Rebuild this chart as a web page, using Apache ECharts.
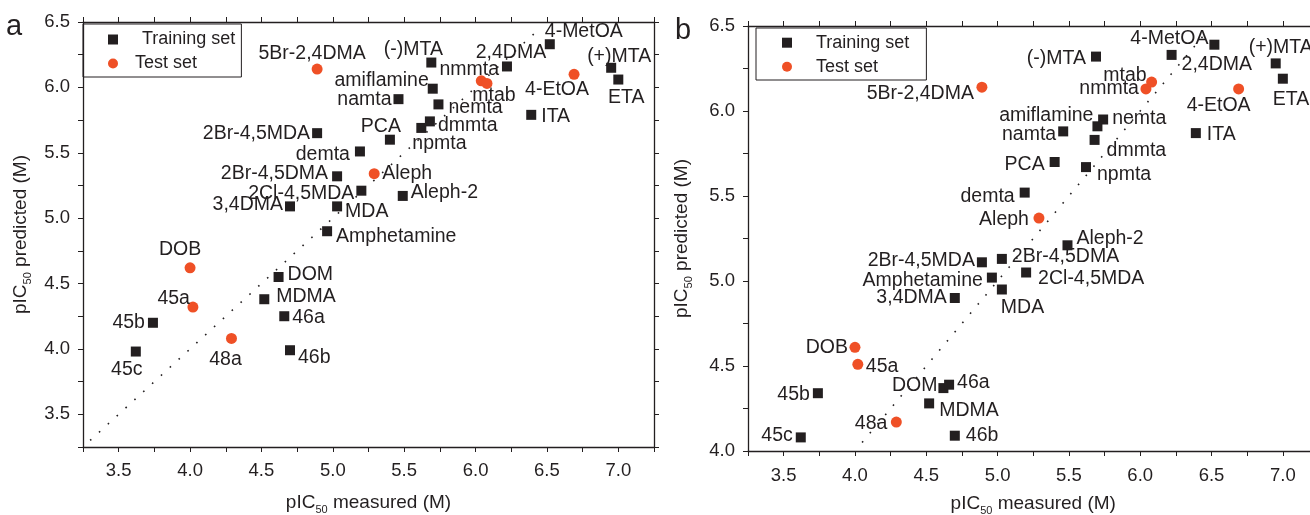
<!DOCTYPE html>
<html>
<head>
<meta charset="utf-8">
<script src="https://cdn.jsdelivr.net/npm/echarts@6/dist/echarts.min.js"></script>
<style>html,body{margin:0;padding:0;background:#fff;overflow:hidden}#c{width:1310px;height:515px}</style>
</head>
<body>
<div id="c"></div>
<script>
// ---------------- data ----------------
const compounds = ['5Br-2,4DMA','2Br-4,5MDA','2Br-4,5DMA','3,4DMA','2Cl-4,5MDA','MDA','Amphetamine','demta','Aleph','Aleph-2','PCA','npmta','dmmta','nemta','amiflamine','namta','(-)MTA','nmmta','mtab','2,4DMA','4-MetOA','4-EtOA','(+)MTA','ETA','ITA','DOB','45a','45b','45c','48a','DOM','MDMA','46a','46b'];
const isTest    = [1,0,0,0,0,0,0,0,1,0,0,0,0,0,0,0,0,1,1,0,0,1,0,0,0,1,1,0,0,1,0,0,0,0];
const measured  = [4.89,4.89,5.03,4.70,5.20,5.03,4.96,5.19,5.29,5.49,5.40,5.62,5.68,5.74,5.70,5.46,5.69,6.04,6.08,6.22,6.52,6.69,6.95,7.00,6.39,4.00,4.02,3.74,3.62,4.29,4.62,4.52,4.66,4.70];
const predictedA= [6.14,5.65,5.32,5.09,5.21,5.09,4.90,5.51,5.34,5.17,5.60,5.69,5.74,5.87,5.99,5.91,6.19,6.05,6.03,6.16,6.33,6.10,6.15,6.06,5.79,4.62,4.32,4.20,3.98,4.08,4.55,4.38,4.25,3.99];
const predictedB= [6.14,5.11,5.13,4.90,5.05,4.95,5.02,5.52,5.37,5.21,5.70,5.67,5.83,5.95,5.91,5.88,6.32,6.13,6.17,6.33,6.39,6.13,6.28,6.19,5.87,4.61,4.51,4.34,4.08,4.17,4.37,4.28,4.39,4.09];
const diagA = [3.30, 6.45];
const diagB = [4.05, 6.47];
const seriesNames = ['Training set', 'Test set'];
const panelLetters = ['a', 'b'];

// ---------------- label placement (style) ----------------
const labelA = {
 '5Br-2,4DMA':['center',-5,-15],'2Br-4,5MDA':['right',-7,0],'2Br-4,5DMA':['right',-9,-3],'3,4DMA':['right',-7,-2],
 '2Cl-4,5MDA':['right',-7,3],'MDA':['left',8,5],'Amphetamine':['left',9,5],'demta':['right',-10,3],
 'Aleph':['left',8,0],'Aleph-2':['left',8,-3],'PCA':['center',-9,-13],'npmta':['left',-9,16],
 'dmmta':['left',8,4],'nemta':['left',10,3],'amiflamine':['right',-4,-8],'namta':['right',-7,0],
 '(-)MTA':['center',-18,-13],'nmmta':['center',-12,-11],'mtab':['center',7,12],'2,4DMA':['center',4,-14],
 '4-MetOA':['left',-5,-13],'4-EtOA':['center',-17,15],'(+)MTA':['center',8,-11],'ETA':['center',8,18],
 'ITA':['left',10,2],'DOB':['center',-10,-18],'45a':['right',-3,-8],'45b':['right',-8,0],
 '45c':['center',-9,18],'48a':['center',-6,21],'DOM':['left',9,-2],'MDMA':['left',12,-3],
 '46a':['left',8,1],'46b':['left',8,7]
};
const labelB = {
 '5Br-2,4DMA':['right',-8,6],'(-)MTA':['right',-10,2],'4-MetOA':['right',-6,-6],'2,4DMA':['left',10,10],
 '(+)MTA':['left',-27,-16],'ETA':['left',-10,21],'4-EtOA':['left',-52,17],'mtab':['right',-5,-6],
 'nmmta':['right',-7,0],'amiflamine':['right',-4,-11],'nemta':['left',9,-1],'namta':['right',-7,3],
 'dmmta':['left',12,11],'ITA':['left',11,2],'PCA':['right',-10,3],'npmta':['left',11,8],
 'demta':['right',-10,4],'Aleph':['right',-10,2],'Aleph-2':['left',9,-7],'2Br-4,5DMA':['left',10,-2],
 '2Cl-4,5MDA':['left',12,6],'MDA':['left',-1,18],'2Br-4,5MDA':['right',-7,-2],'Amphetamine':['right',-9,3],
 '3,4DMA':['right',-8,0],'DOB':['right',-7,0],'45a':['left',8,2],'45b':['right',-8,1],
 '45c':['right',-8,-2],'48a':['right',-9,2],'DOM':['right',-6,-2],'46a':['left',8,-2],
 'MDMA':['left',10,7],'46b':['left',11,0]
};

const INK = '#231f20';
const RED = '#EF5026';
const FONT = 'Liberation Sans, Arial, sans-serif';
const SQ = 10, CI = 11;

function pointsFor(pred, test, labels, size) {
  const out = [];
  for (let i = 0; i < compounds.length; i++) {
    if (!!isTest[i] !== test) continue;
    const lp = labels[compounds[i]];
    const h = size / 2;
    out.push({
      name: compounds[i],
      value: [measured[i], pred[i]],
      label: { position: [h + lp[1], h + lp[2]], align: lp[0], verticalAlign: 'middle' }
    });
  }
  return out;
}

const halfTick = v => Math.abs(v * 2 - Math.round(v * 2)) < 1e-6;
function axisCommon(extra) {
  return Object.assign({
    type: 'value', interval: 0.25, splitLine: { show: false },
    axisLine: { show: true, onZero: false, lineStyle: { color: INK, width: 1.3 } },
    axisTick: { show: true, length: 5, lineStyle: { color: INK, width: 1 } },
    axisLabel: { show: true, color: INK, fontSize: 18.5, fontFamily: FONT, margin: 13,
                 formatter: v => halfTick(v) ? v.toFixed(1) : '' }
  }, extra);
}
const nameStyle = {
  color: INK, fontSize: 19, fontFamily: FONT, lineHeight: 25,
  rich: { s: { fontSize: 11, fontFamily: FONT, color: INK, verticalAlign: 'bottom', lineHeight: 13 } }
};

const grids = [
  { left: 83, top: 22, width: 571, height: 425, outerBoundsMode: 'none', containLabel: false },
  { left: 748, top: 26, width: 570.5, height: 425, outerBoundsMode: 'none', containLabel: false }
];
const yRanges = [[3.25, 6.5], [4.0, 6.5]];

const xAxes = [], yAxes = [];
[0, 1].forEach(g => {
  xAxes.push(axisCommon({ gridIndex: g, position: 'bottom', min: 3.25, max: 7.25,
    name: 'pIC{s|50} measured (M)', nameLocation: 'middle', nameGap: g === 0 ? 43 : 40.5,
    nameTextStyle: nameStyle,
    axisLabel: { color: INK, fontSize: 18.5, fontFamily: FONT, margin: g === 0 ? 14 : 15,
                 formatter: v => halfTick(v) ? v.toFixed(1) : '' } }));
  xAxes.push(axisCommon({ gridIndex: g, position: 'top', min: 3.25, max: 7.25, axisLabel: { show: false } }));
  yAxes.push(axisCommon({ gridIndex: g, position: 'left', min: yRanges[g][0], max: yRanges[g][1],
    name: 'pIC{s|50} predicted (M)', nameLocation: 'middle', nameGap: g === 0 ? 50 : 54,
    nameTextStyle: nameStyle }));
  yAxes.push(axisCommon({ gridIndex: g, position: 'right', min: yRanges[g][0], max: yRanges[g][1], axisLabel: { show: false } }));
});

const labelStyle = { show: true, formatter: '{b}', color: INK, fontSize: 19.5, fontFamily: FONT };
const series = [];
[[predictedA, labelA, diagA], [predictedB, labelB, diagB]].forEach((p, g) => {
  series.push({
    type: 'line', xAxisIndex: 2 * g, yAxisIndex: 2 * g, silent: true, symbol: 'none', z: 1,
    data: [[p[2][0], p[2][0]], [p[2][1], p[2][1]]],
    lineStyle: { color: INK, width: 1.6, type: [1.6, 10.4] }
  });
  series.push({
    name: seriesNames[0], type: 'scatter', xAxisIndex: 2 * g, yAxisIndex: 2 * g, symbol: 'rect', symbolSize: SQ,
    itemStyle: { color: INK, opacity: 1 }, label: labelStyle, z: 3,
    data: pointsFor(p[0], false, p[1], SQ)
  });
  series.push({
    name: seriesNames[1], type: 'scatter', xAxisIndex: 2 * g, yAxisIndex: 2 * g, symbol: 'circle', symbolSize: CI,
    itemStyle: { color: RED, opacity: 1 }, label: labelStyle, z: 3,
    data: pointsFor(p[0], true, p[1], CI)
  });
});

function legendFor(left, top, padding, padT, padS) {
  return {
    orient: 'vertical', left: left, top: top, padding: padding, itemGap: 4,
    itemWidth: 10, itemHeight: 10, borderColor: INK, borderWidth: 1, borderRadius: 0,
    selectedMode: false,
    data: [{ name: seriesNames[0], icon: 'rect' }, { name: seriesNames[1], icon: 'circle' }],
    formatter: n => n === seriesNames[0] ? '{t|' + n + '}' : '{u|' + n + '}',
    textStyle: { color: INK, fontSize: 18, fontFamily: FONT, lineHeight: 20,
      rich: { t: { fontSize: 18, fontFamily: FONT, color: INK, padding: [0, 0, 0, padT] },
              u: { fontSize: 18, fontFamily: FONT, color: INK, padding: [0, 0, 0, padS] } } }
  };
}

const chart = echarts.init(document.getElementById('c'), null, { renderer: 'canvas' });
chart.setOption({
  animation: false,
  backgroundColor: '#fff',
  title: [
    { text: panelLetters[0], left: 6, top: 12, padding: 0, textStyle: { fontSize: 29, fontWeight: 'normal', color: INK, fontFamily: FONT } },
    { text: panelLetters[1], left: 675, top: 16, padding: 0, textStyle: { fontSize: 29, fontWeight: 'normal', color: INK, fontFamily: FONT } }
  ],
  legend: [
    legendFor(83, 24, [5.5, 6, 3.5, 25], 19, 12),
    legendFor(756, 28, [4.7, 17, 3.3, 26], 19, 19)
  ],
  grid: grids,
  xAxis: xAxes,
  yAxis: yAxes,
  series: series
});
</script>
</body>
</html>
